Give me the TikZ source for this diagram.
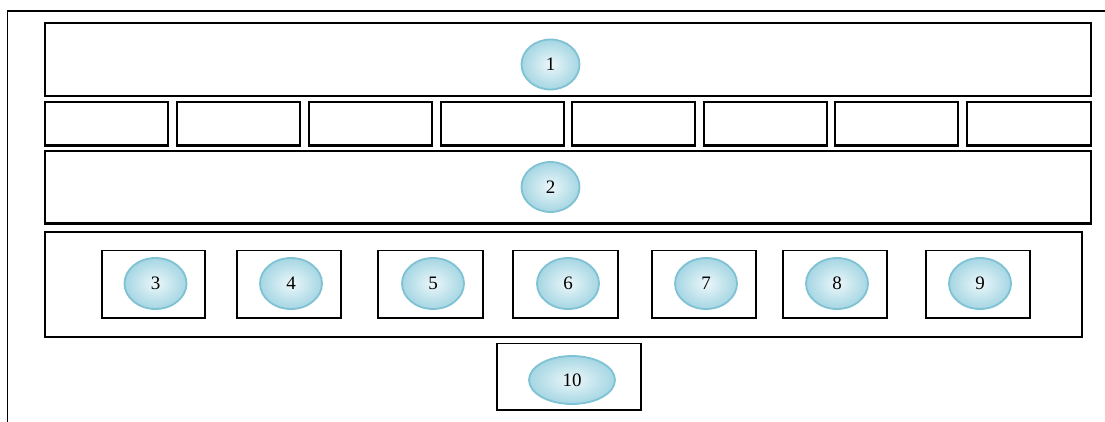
\documentclass[tikz,border=0pt]{standalone}
\usepackage{fontspec}
\setmainfont{Liberation Serif}
\usetikzlibrary{shapes.geometric}
\begin{document}
\begin{tikzpicture}[x=1pt,y=-1pt,
  frame/.style={draw=black,line width=1.8pt},
  bigbox/.style={draw=black,line width=2.4pt},
  midbox/.style={draw=black,line width=1.9pt},
  blob/.style={ellipse,draw={rgb,255:red,126;green,194;blue,211},line width=1.8pt,
    inner color={rgb,255:red,236;green,247;blue,250},outer color={rgb,255:red,165;green,214;blue,227},
    minimum width=58pt,minimum height=50pt,inner sep=0pt,font=\fontsize{19}{21}\selectfont}]
\useasboundingbox (0,0) rectangle (1105,422);
% outer frame (partially visible)
\draw[frame] (7.5,422) -- (7.5,11) -- (1105,11);
% box 1
\draw[bigbox] (45,23) rectangle (1091,96);
\node[blob] (e1) at (550.5,64.5) {1};
% row of eight boxes
\foreach \a/\b [count=\i] in {45/168,177/300,309/432,441/564,572/695,704/827,835/958,967/1091}{
  \draw[bigbox] (\a,102) rectangle (\b,145.5);
}
% box 2
\draw[bigbox] (45,151) rectangle (1091,223.5);
\node[blob] (e2) at (550.5,187) {2};
% container 3-9
\draw[midbox] (45,232) rectangle (1082,337);
\foreach \a/\b/\c/\n in {102/205/155.5/3,237/341/291/4,378/483/433/5,513/618/568/6,652/756/706/7,783/887/837/8,926/1030/980/9}{
  \draw[midbox] (\a,250.5) rectangle (\b,318);
  \node[blob,minimum width=62pt,minimum height=51pt] (e\n) at (\c,283.5) {\n};
}
% box 10
\draw[midbox] (497,343.5) rectangle (641,410);
\node[blob,minimum width=86pt,minimum height=48pt] (e10) at (572,380) {10};
\end{tikzpicture}
\end{document}
